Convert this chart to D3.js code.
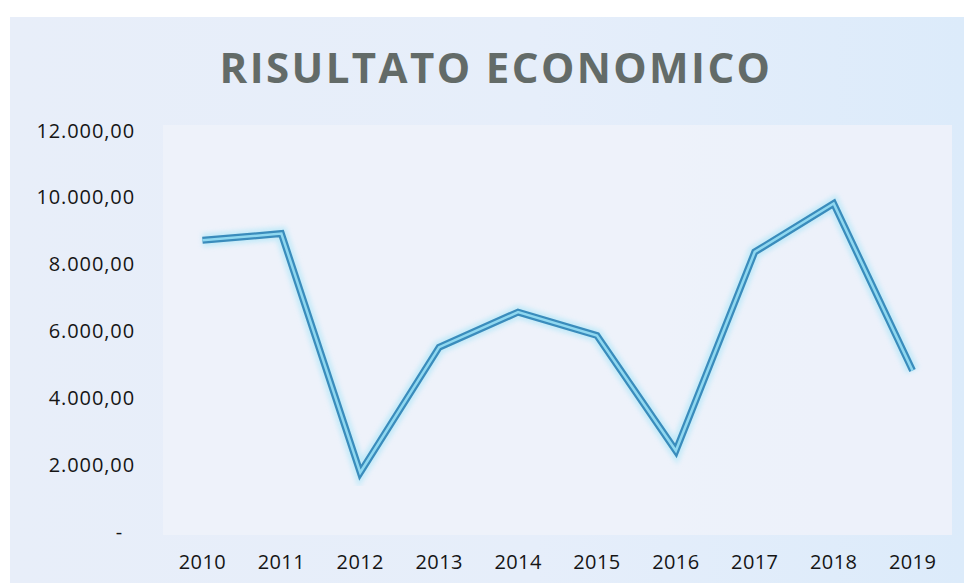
<!DOCTYPE html>
<html>
<head>
<meta charset="utf-8">
<script src="https://cdn.jsdelivr.net/npm/d3@7"></script>
<style>
    body { margin: 0; background: #ffffff; }
    svg { display: block; }
</style>
</head>
<body>
<div id="canvas"></div>
<script>
"use strict"

let svgWidth = 964
let svgHeight = 583

// data
let years = ["2010", "2011", "2012", "2013", "2014", "2015", "2016", "2017", "2018", "2019"]
let risultato = [8700, 8900, 1750, 5500, 6550, 5850, 2400, 8350, 9800, 4800]
let yTicks = [0, 2000, 4000, 6000, 8000, 10000, 12000]

let titleText = "RISULTATO ECONOMICO"

let plot = { left: 163, right: 952, top: 125, bottom: 535 }

let svg = d3.select("#canvas")
    .append("svg")
    .attr("width", svgWidth)
    .attr("height", svgHeight)

let defs = svg.append("defs")

// soft bluish background, whiter on the left, bluer on the right
let bg = defs.append("linearGradient")
    .attr("id", "bg")
    .attr("x1", "0%").attr("y1", "0%")
    .attr("x2", "100%").attr("y2", "0%")
bg.append("stop").attr("offset", "0%").attr("stop-color", "#e8eef9")
bg.append("stop").attr("offset", "55%").attr("stop-color", "#e6eefa")
bg.append("stop").attr("offset", "100%").attr("stop-color", "#dcebfa")

let glow = defs.append("filter")
    .attr("id", "glow")
    .attr("x", "-5%").attr("y", "-5%")
    .attr("width", "110%").attr("height", "110%")
glow.append("feGaussianBlur").attr("stdDeviation", 2.5)

svg.append("rect")
    .attr("x", 10)
    .attr("y", 17)
    .attr("width", svgWidth - 10)
    .attr("height", svgHeight - 17)
    .attr("fill", "url(#bg)")

// plot area, a little lighter than the chart background
svg.append("rect")
    .attr("x", plot.left)
    .attr("y", plot.top)
    .attr("width", plot.right - plot.left)
    .attr("height", plot.bottom - plot.top)
    .attr("fill", "#eef2f9")
    .attr("opacity", 0.9)

let xScale = d3.scaleBand()
    .domain(years)
    .range([plot.left, plot.right])

let yScale = d3.scaleLinear()
    .domain([0, 12000])
    .range([531, 130])

// italian accounting style: 12.000,00 and "-" for zero
let itLocale = d3.formatLocale({
    decimal: ",",
    thousands: ".",
    grouping: [3],
    currency: ["", "€"]
})
let fmt = itLocale.format(",.2f")

let yAxis = d3.axisLeft(yScale)
    .tickValues(yTicks)
    .tickSize(0)
    .tickPadding(0)
    .tickFormat(function (d) { return d === 0 ? "-" : fmt(d) })

let yG = svg.append("g")
    .attr("transform", "translate(135,0)")
    .call(yAxis)
yG.select(".domain").remove()
yG.selectAll("text")
    .attr("dy", "0.35em")
    .attr("x", function (d) { return d === 0 ? -12 : 0 })
    .style("font-family", "'Open Sans', sans-serif")
    .style("font-size", "20px")
    .style("letter-spacing", "0.9px")
    .style("fill", "#151515")

let xAxis = d3.axisBottom(xScale)
    .tickSize(0)
    .tickPadding(0)

let xG = svg.append("g")
    .attr("transform", "translate(0,555)")
    .call(xAxis)
xG.select(".domain").remove()
xG.selectAll("text")
    .attr("dy", "0.71em")
    .style("font-family", "'Open Sans', sans-serif")
    .style("font-size", "20px")
    .style("letter-spacing", "0.4px")
    .style("fill", "#151515")

// title
svg.append("text")
    .attr("x", 496)
    .attr("y", 83)
    .attr("text-anchor", "middle")
    .style("font-family", "'Open Sans', sans-serif")
    .style("font-weight", "bold")
    .style("font-size", "42px")
    .style("letter-spacing", "2.4px")
    .style("fill", "#636b68")
    .text(titleText)

let line = d3.line()
    .x(function (d, i) { return xScale(years[i]) + xScale.bandwidth() / 2 })
    .y(function (d) { return yScale(d) })

// faint halo, dark edge and light core give the double-line look
svg.append("path")
    .datum(risultato)
    .attr("d", line)
    .attr("fill", "none")
    .attr("stroke", "#9fe3f7")
    .attr("stroke-width", 13)
    .attr("opacity", 0.55)
    .attr("filter", "url(#glow)")

svg.append("path")
    .datum(risultato)
    .attr("d", line)
    .attr("fill", "none")
    .attr("stroke", "#3a8cbc")
    .attr("stroke-width", 7)
    .attr("stroke-linejoin", "miter")

svg.append("path")
    .datum(risultato)
    .attr("d", line)
    .attr("fill", "none")
    .attr("stroke", "#8fd8f0")
    .attr("stroke-width", 2.5)
    .attr("stroke-linejoin", "miter")
</script>
</body>
</html>
